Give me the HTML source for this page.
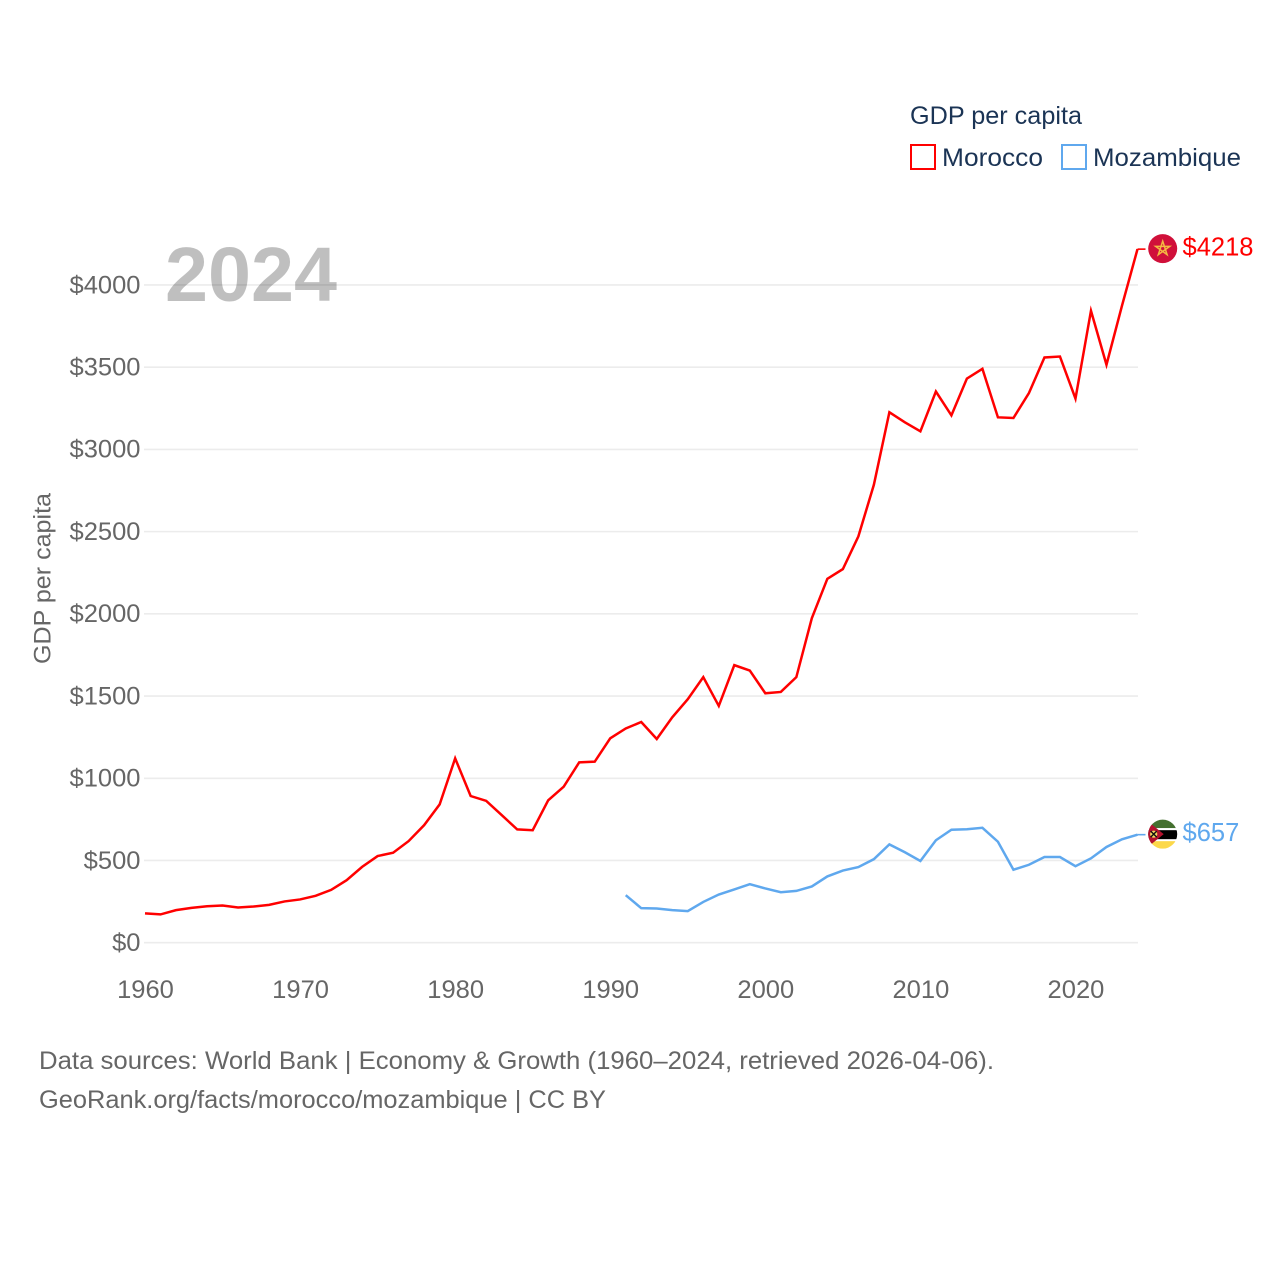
<!DOCTYPE html>
<html lang="en">
<head>
<meta charset="utf-8">
<title>GDP per capita: Morocco and Mozambique</title>
<style>
html,body{margin:0;padding:0;background:#fff;}
svg{display:block;}
text{font-family:"Liberation Sans",sans-serif;}
</style>
</head>
<body>
<svg id="chart" xmlns="http://www.w3.org/2000/svg" width="1280" height="1280" viewBox="0 0 1280 1280">
  <rect x="0" y="0" width="1280" height="1280" fill="#ffffff"/>
  <g id="grid"></g>
  <text x="165" y="301" font-size="77" font-weight="700" fill="#000" fill-opacity="0.25" textLength="172" lengthAdjust="spacingAndGlyphs">2024</text>
  <g id="yticks"></g>
  <g id="xticks"></g>
  <text transform="translate(50.5,664) rotate(-90)" font-size="24.5" fill="#666666" textLength="171" lengthAdjust="spacingAndGlyphs">GDP per capita</text>
  <g id="series"></g>
  <g id="endpoints"></g>

  <g>
    <text x="910" y="124" font-size="25" fill="#1b3455" textLength="172" lengthAdjust="spacingAndGlyphs">GDP per capita</text>
    <rect x="911" y="145" width="24" height="24" fill="#fff" stroke="#ff0000" stroke-width="2"/>
    <text x="942" y="166" font-size="25" fill="#1b3455" textLength="101" lengthAdjust="spacingAndGlyphs">Morocco</text>
    <rect x="1062" y="145" width="24" height="24" fill="#fff" stroke="#5fa8ee" stroke-width="2"/>
    <text x="1093" y="166" font-size="25" fill="#1b3455" textLength="148" lengthAdjust="spacingAndGlyphs">Mozambique</text>
  </g>

  <g>
    <text x="39" y="1069" font-size="25" fill="#666666" textLength="955" lengthAdjust="spacingAndGlyphs">Data sources: World Bank | Economy &amp; Growth (1960–2024, retrieved 2026-04-06).</text>
    <text x="39" y="1108" font-size="25" fill="#666666" textLength="567" lengthAdjust="spacingAndGlyphs">GeoRank.org/facts/morocco/mozambique | CC BY</text>
  </g>

  <defs>
    <clipPath id="flag-clip"><circle cx="0" cy="0" r="14.5"/></clipPath>
  </defs>
</svg>
<script>
const startYear = 1960;
const endYear = 2024;
const xTickYears = [1960, 1970, 1980, 1990, 2000, 2010, 2020];
const yTickValues = [0, 500, 1000, 1500, 2000, 2500, 3000, 3500, 4000];
const moroccoStartYear = 1960;
const moroccoValues = [178, 172, 198, 212, 222, 226, 214, 220, 230, 251,
  263, 285, 321, 380, 461, 527, 547, 618, 715, 841,
  1121, 892, 863, 776, 689, 684, 866, 949, 1097, 1101,
  1243, 1303, 1342, 1239, 1371, 1481, 1615, 1440, 1688, 1655,
  1517, 1525, 1615, 1974, 2213, 2272, 2471, 2785, 3226, 3165,
  3110, 3352, 3207, 3431, 3490, 3195, 3191, 3343, 3559, 3565,
  3309, 3843, 3515, 3874, 4218];
const mozambiqueStartYear = 1991;
const mozambiqueValues = [289, 210, 208, 198, 192, 248, 293, 324, 356, 330,
  307, 315, 342, 403, 439, 460, 508, 598, 550, 497,
  623, 687, 690, 699, 614, 444, 474, 521, 521, 465,
  513, 582, 629, 657];

const NS = 'http://www.w3.org/2000/svg';
const plotLeft = 145, plotRight = 1137.5, zeroY = 942.7, perDollar = 0.16443;
const digitWidth = 14.2;
function xScale(year) {
  return plotLeft + (year - startYear) * (plotRight - plotLeft) / (endYear - startYear);
}
function yScale(value) {
  return zeroY - value * perDollar;
}
function make(tag, parent) {
  const el = document.createElementNS(NS, tag);
  parent.appendChild(el);
  return el;
}
const grid = document.getElementById('grid');
const yticks = document.getElementById('yticks');
const xticks = document.getElementById('xticks');
const series = document.getElementById('series');
const endpoints = document.getElementById('endpoints');

yTickValues.forEach(function (v) {
  const line = make('line', grid);
  
  
  line.setAttribute('x1', plotLeft - 1);
  line.setAttribute('x2', plotRight + 0.5);
  line.setAttribute('y1', yScale(v));
  line.setAttribute('y2', yScale(v));
  line.setAttribute('stroke', '#ececec');
  line.setAttribute('stroke-width', '1.6');

  const label = make('text', yticks);
  
  
  label.setAttribute('x', 140.5);
  label.setAttribute('y', yScale(v) + 8.3);
  label.setAttribute('text-anchor', 'end');
  label.setAttribute('font-size', '25');
  label.setAttribute('fill', '#666666');
  label.textContent = '$' + v;
  label.setAttribute('textLength', digitWidth * label.textContent.length);
  label.setAttribute('lengthAdjust', 'spacingAndGlyphs');
});

xTickYears.forEach(function (yr) {
  const label = make('text', xticks);
  
  
  label.setAttribute('x', xScale(yr) + 0.5);
  label.setAttribute('y', 998);
  label.setAttribute('text-anchor', 'middle');
  label.setAttribute('font-size', '25');
  label.setAttribute('fill', '#666666');
  label.textContent = String(yr);
  label.setAttribute('textLength', digitWidth * label.textContent.length);
  label.setAttribute('lengthAdjust', 'spacingAndGlyphs');
});

function drawLine(values, firstYear, color, name) {
  const path = make('path', series);
  
  
  let d = '';
  values.forEach(function (v, i) {
    d += (i ? 'L' : 'M') + xScale(firstYear + i).toFixed(2) + ' ' + yScale(v).toFixed(2);
  });
  path.setAttribute('d', d);
  path.setAttribute('fill', 'none');
  path.setAttribute('stroke', color);
  path.setAttribute('stroke-width', '2.5');
  path.setAttribute('stroke-linejoin', 'miter');
  path.setAttribute('stroke-miterlimit', '10');

  const last = values[values.length - 1];
  const lastX = xScale(firstYear + values.length - 1);
  const lastY = yScale(last);

  const leader = make('line', series);
  
  
  leader.setAttribute('x1', lastX);
  leader.setAttribute('x2', lastX + 8);
  leader.setAttribute('y1', lastY);
  leader.setAttribute('y2', lastY);
  leader.setAttribute('stroke', color);
  leader.setAttribute('stroke-width', '1.6');

  const value = make('text', endpoints);
  
  
  value.setAttribute('x', 1182.5);
  value.setAttribute('y', lastY + 6.5);
  value.setAttribute('font-size', '25.5');
  value.setAttribute('fill', color);
  value.textContent = '$' + last;
  value.setAttribute('textLength', digitWidth * value.textContent.length);
  value.setAttribute('lengthAdjust', 'spacingAndGlyphs');

  const flag = make('g', endpoints);
  
  
  flag.setAttribute('transform', 'translate(1162.7,' + (lastY - 0.5) + ')');
  flag.setAttribute('clip-path', 'url(#flag-clip)');
  return flag;
}

function shape(parent, tag, attrs) {
  const el = make(tag, parent);
  Object.keys(attrs).forEach(function (k) { el.setAttribute(k, attrs[k]); });
  return el;
}

const moroccoFlag = drawLine(moroccoValues, moroccoStartYear, '#ff0000', 'morocco');
const mozambiqueFlag = drawLine(mozambiqueValues, mozambiqueStartYear, '#5fa8ee', 'mozambique');

shape(moroccoFlag, 'rect', {x: -15, y: -15, width: 30, height: 30, fill: '#d0103a'});
shape(moroccoFlag, 'path', {d: 'M0 -7.5L4.4 6L-7.1 -2.3L7.1 -2.3L-4.4 6Z', fill: 'none', stroke: '#f4b942', 'stroke-width': 1.5});

shape(mozambiqueFlag, 'rect', {x: -15, y: -15, width: 30, height: 9, fill: '#44702f'});
shape(mozambiqueFlag, 'rect', {x: -15, y: -6, width: 30, height: 13, fill: '#ffffff'});
shape(mozambiqueFlag, 'rect', {x: -15, y: -4, width: 30, height: 9, fill: '#000000'});
shape(mozambiqueFlag, 'rect', {x: -15, y: 7, width: 30, height: 8, fill: '#fcd84a'});
shape(mozambiqueFlag, 'path', {d: 'M-15 -13L1 0L-15 13Z', fill: '#b3122e'});
shape(mozambiqueFlag, 'circle', {cx: -9, cy: 0, r: 3.6, fill: '#f6d860'});
shape(mozambiqueFlag, 'path', {d: 'M-12 -3L-6 3M-6 -3L-12 3', stroke: '#111', 'stroke-width': 1.4, fill: 'none'});
</script>
</body>
</html>
